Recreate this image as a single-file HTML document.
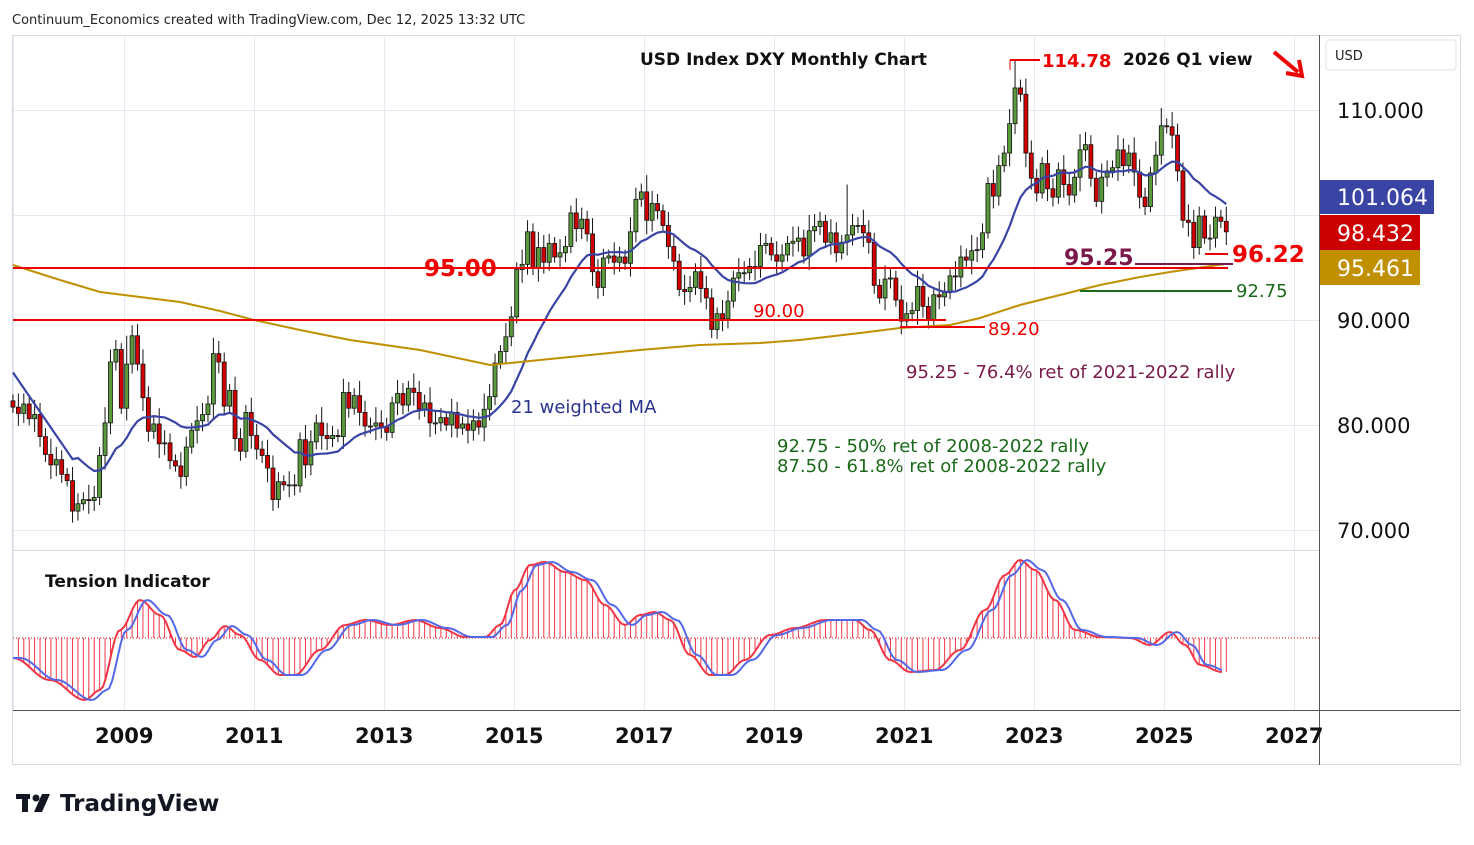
<!DOCTYPE html>
<html><head><meta charset="utf-8"><style>
body{margin:0;background:#fff;font-family:"Liberation Sans","DejaVu Sans",sans-serif;}
svg text{font-family:"DejaVu Sans","Liberation Sans",sans-serif;}
</style></head><body>
<svg id="s" width="1474" height="840" xmlns="http://www.w3.org/2000/svg">
<rect x="0" y="0" width="1474" height="840" fill="#fff"/>
<rect x="12.5" y="35.5" width="1448" height="729" fill="none" stroke="#d6dbe3"/>
<line x1="1319.5" y1="35" x2="1319.5" y2="765" stroke="#555"/>
<line x1="13" y1="710.5" x2="1460" y2="710.5" stroke="#555"/>
<line x1="13" y1="550.5" x2="1319" y2="550.5" stroke="#d6dbe3"/>
<g id="grid" stroke="#e3eaf2" stroke-width="1"></g>
<g id="g"></g>
<text x="12" y="24" font-size="13" fill="#222">Continuum_Economics created with TradingView.com, Dec 12, 2025 13:32 UTC</text>
<rect x="1326" y="40" width="130" height="30" rx="3" fill="#fff" stroke="#e0e3eb"/>
<text x="1335" y="60" font-size="13" fill="#222">USD</text>
<text x="640" y="65" font-size="17" font-weight="bold" fill="#111">USD Index DXY Monthly Chart</text>
<text x="1123" y="65" font-size="17" font-weight="bold" fill="#111">2026 Q1 view</text>
<path d="M1274 52 L1298 72" stroke="#e00" stroke-width="4"/>
<path d="M1286 73 L1302 76 L1299 60" fill="none" stroke="#e00" stroke-width="4"/>
<g font-size="21" fill="#111">
<text x="1337" y="118">110.000</text><text x="1337" y="328">90.000</text>
<text x="1337" y="433">80.000</text><text x="1337" y="538">70.000</text>
</g>
<rect x="1320" y="180" width="114" height="34" fill="#3a44a4"/>
<text x="1337" y="205" font-size="22" fill="#fff">101.064</text>
<rect x="1320" y="215" width="100" height="35" fill="#cc0000"/>
<text x="1337" y="241" font-size="22" fill="#fff">98.432</text>
<rect x="1320" y="250" width="100" height="35" fill="#c09000"/>
<text x="1337" y="276" font-size="22" fill="#fff">95.461</text>
<g font-size="21" font-weight="bold" fill="#111">
<text x="95" y="743">2009</text><text x="225" y="743">2011</text><text x="355" y="743">2013</text>
<text x="485" y="743">2015</text><text x="615" y="743">2017</text><text x="745" y="743">2019</text>
<text x="875" y="743">2021</text><text x="1005" y="743">2023</text><text x="1135" y="743">2025</text><text x="1265" y="743">2027</text>
</g>
<text x="45" y="587" font-size="17" font-weight="bold" fill="#111">Tension Indicator</text>
<rect x="16" y="794" width="14" height="5" fill="#131722"/><rect x="22" y="794" width="6" height="18" fill="#131722"/>
<circle cx="36" cy="798" r="3.5" fill="#131722"/><path d="M42 794 L50 794 L42 812 L34 812 Z" fill="#131722"/>
<text x="60" y="811" font-size="23" font-weight="bold" fill="#131722">TradingView</text>
</svg>
<script>
const S=document.getElementById('g'),G=document.getElementById('grid');
const ns='http://www.w3.org/2000/svg';
function el(t,a,p){const e=document.createElementNS(ns,t);for(const k in a)e.setAttribute(k,a[k]);(p||S).appendChild(e);return e;}
[110,215,320,425,530].forEach(y=>el('line',{x1:13,x2:1319,y1:y+.5,y2:y+.5},G));
[13,124,254,384,514,644,774,904,1034,1164,1294].forEach(x=>{el('line',{x1:x+.5,x2:x+.5,y1:36,y2:550},G);el('line',{x1:x+.5,x2:x+.5,y1:551,y2:710},G);});
const Y=p=>110+(110-p)*10.5;
const X=t=>124+(t-2009)*65;
const C=[81.7,81.1,82.0,80.6,81.0,78.9,77.2,76.2,76.7,
75.3,74.7,71.8,72.5,72.9,72.8,73.1,77.1,80.2,86.0,87.2,81.6,
85.8,88.5,85.8,82.6,79.4,80.1,78.2,78.3,76.6,76.1,75.1,77.9,
79.5,80.4,81.0,82.0,86.8,86.0,81.8,83.3,78.7,77.5,81.2,79.0,
77.7,77.1,75.9,72.9,74.6,74.3,74.3,74.2,78.6,76.2,78.4,80.2,
79.0,78.7,79.0,78.9,83.1,81.6,82.8,81.2,79.9,79.9,80.2,79.8,
79.3,82.1,83.0,81.9,83.5,83.1,81.5,82.1,80.2,80.2,80.7,80.0,
81.2,79.7,80.1,79.5,80.4,79.8,81.5,82.7,85.9,87.0,88.4,90.3,
94.8,95.3,98.4,95.0,96.9,95.5,97.3,96.0,96.4,97.0,100.2,98.7,
99.6,98.2,94.6,93.1,95.9,96.1,95.5,96.0,95.4,98.4,101.5,102.2,
99.5,101.1,100.4,99.0,97.0,95.6,92.9,92.7,93.1,94.6,93.0,92.1,
89.1,90.6,90.1,91.8,94.0,94.5,94.5,95.1,95.1,97.1,97.3,96.2,
95.6,96.2,97.3,97.5,97.8,96.1,98.5,98.9,99.4,97.4,98.3,96.4,
97.4,98.1,99.0,99.0,98.3,97.4,93.3,92.1,93.9,94.0,91.9,89.9,
90.6,90.9,93.2,91.3,90.0,92.4,92.2,92.6,94.2,94.1,96.0,95.7,
96.6,96.7,98.3,103.0,101.8,104.7,105.9,108.7,112.1,111.5,105.9,103.5,
102.1,104.9,102.5,101.7,104.3,102.9,101.9,103.6,106.2,106.7,103.5,101.3,
103.6,104.2,104.5,106.2,104.7,105.9,104.1,101.7,100.8,104.0,105.7,108.5,
108.4,107.6,104.2,99.5,99.3,96.9,99.9,97.8,97.8,99.8,99.4,98.4];
let prev=82.3,xs=[];
C.forEach((c,i)=>{const t=2007.25+(i+0.5)/12,x=X(t);xs.push(x);const o=prev;
 const r=0.6+((i*37)%10)/10;let h=Math.max(o,c)+r,l=Math.min(o,c)-r*0.9;
 if(i==185)h=114.78; if(i==21)h=88.5; if(i==23)h=89.6; if(i==212)h=110.2; if(i==117)h=103.8; if(i==154)h=102.9;
 if(i==165)l=89.2; if(i==130)l=88.2; if(i==11)l=70.7; if(i==219)l=96.22;
 el('line',{x1:x,x2:x,y1:Y(h),y2:Y(l),stroke:'#111','stroke-width':1});
 const up=c>=o,top=Y(Math.max(o,c)),bh=Math.max(1,Math.abs(Y(o)-Y(c)));
 el('rect',{x:x-2,y:top,width:4,height:bh,fill:up?'#5a9a3c':'#d00000',stroke:'#111','stroke-width':0.8});
 prev=c;});
let pts=[];C.forEach((c,i)=>{let s=0,w=0;for(let k=0;k<21&&i-k>=0;k++){s+=C[i-k]*(21-k);w+=21-k;}let v=s/w;if(i<12)v=85-i*0.75;pts.push(xs[i].toFixed(1)+','+Y(v).toFixed(1));});
el('polyline',{points:pts.join(' '),fill:'none',stroke:'#3a44a4','stroke-width':2.2});
el('polyline',{points:'13,265 60,280 100,292 140,297 180,302 220,311 254,320 300,330 350,340 420,350 490,365 530,361 560,358 640,350 700,345 760,343 800,340 860,333 900,328 950,325 980,318 1020,305 1060,295 1100,285 1140,277 1170,272 1225,264',fill:'none',stroke:'#c09000','stroke-width':2});
el('line',{x1:13,x2:1228,y1:268,y2:268,stroke:'#e00','stroke-width':2});
el('line',{x1:13,x2:946,y1:320,y2:320,stroke:'#e00','stroke-width':2});
el('line',{x1:900,x2:985,y1:327,y2:327,stroke:'#e00','stroke-width':2});
el('line',{x1:1010,x2:1040,y1:60,y2:60,stroke:'#e00','stroke-width':2});
el('line',{x1:1010,x2:1010,y1:60,y2:70,stroke:'#e00','stroke-width':1});
el('line',{x1:1135,x2:1233,y1:264,y2:264,stroke:'#7a1a4a','stroke-width':2});
el('line',{x1:1205,x2:1228,y1:254,y2:254,stroke:'#e00','stroke-width':2});
el('line',{x1:1080,x2:1232,y1:291,y2:291,stroke:'#1a6a1a','stroke-width':2});
const T=(x,y,s,f,c,b)=>{const e=el('text',{x:x,y:y,'font-size':f,fill:c,'font-weight':b?'bold':'normal'});e.textContent=s;};
T(424,276,'95.00',23,'#e00',1);T(753,317,'90.00',18,'#e00',0);T(988,335,'89.20',18,'#e00',0);
T(1042,67,'114.78',18,'#e00',1);T(1064,265,'95.25',22,'#7a1a4a',1);T(1232,262,'96.22',23,'#e00',1);
T(1236,297,'92.75',18,'#1a6a1a',0);
T(906,378,'95.25 - 76.4% ret of 2021-2022 rally',18,'#7a1a4a',0);
T(511,413,'21 weighted MA',18,'#2a3490',0);
T(777,452,'92.75 - 50% ret of 2008-2022 rally',18,'#1a6a1a',0);
T(777,472,'87.50 - 61.8% ret of 2008-2022 rally',18,'#1a6a1a',0);
const K=[[13,658],[50,680],[85,700],[100,690],[120,630],[140,600],[160,615],[180,650],[195,657],[210,640],[225,626],[240,635],[260,660],[280,675],[295,675],[320,650],[345,625],[365,620],[390,625],[415,620],[440,628],[465,637],[485,637],[500,625],[515,590],[530,565],[545,562],[565,572],[585,580],[605,605],[625,625],[640,615],[655,612],[670,620],[690,655],[710,675],[725,675],[745,660],[770,635],[795,628],[825,620],[855,620],[870,630],[890,660],[910,672],[935,670],[960,650],[985,610],[1005,575],[1020,560],[1035,570],[1055,600],[1075,630],[1100,637],[1130,638],[1150,645],[1170,632],[1185,645],[1200,665],[1222,672]];
function f(x){if(x<=K[0][0])return K[0][1];for(let i=1;i<K.length;i++){if(x<=K[i][0]){const a=K[i-1],b=K[i],u=(x-a[0])/(b[0]-a[0]),s=(1-Math.cos(Math.PI*u))/2;return a[1]+(b[1]-a[1])*s;}}return K[K.length-1][1];}
el('line',{x1:13,x2:1319,y1:638,y2:638,stroke:'#e00','stroke-dasharray':'1,2'});
xs.forEach(x=>{if(x>13)el('line',{x1:x,x2:x,y1:638,y2:f(x),stroke:'#f23645','stroke-width':1});});
let rp=[],bp=[];for(let x=13;x<=1222;x+=3){rp.push(x+','+f(x).toFixed(1));bp.push(x+','+f(x-7).toFixed(1));}
el('polyline',{points:rp.join(' '),fill:'none',stroke:'#f23645','stroke-width':2});
el('polyline',{points:bp.join(' '),fill:'none',stroke:'#5468e8','stroke-width':2});
</script>
</body></html>
